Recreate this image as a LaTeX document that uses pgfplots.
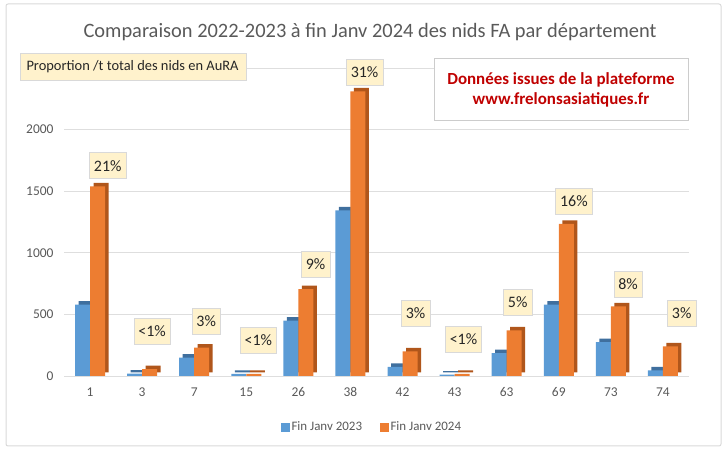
\documentclass[border=0pt]{standalone}
\usepackage{fontspec}
\setmainfont{Carlito}
\usepackage{pgfplots}
\pgfplotsset{compat=1.18}
\usepackage{pgfplotstable}
\definecolor{barblue}{HTML}{5B9BD5}
\definecolor{barorange}{HTML}{ED7D31}
\definecolor{sideblue}{HTML}{3F6F9E}
\definecolor{sideorange}{HTML}{B0561B}
\definecolor{labfill}{HTML}{FFF2CC}
\definecolor{txtgray}{HTML}{595959}
\definecolor{srcred}{HTML}{C00000}

\pgfplotstableread{
x dep a b
0 1 580 1540
1 3 20 55
2 7 150 230
3 15 18 18
4 26 450 705
5 38 1345 2310
6 42 75 200
7 43 12 18
8 63 185 370
9 69 580 1235
10 73 275 565
11 74 45 240
}\nids

\pgfplotstableread{
x y lab
0.34 1600 21\%
1.19 255 <1\%
2.23 336 3\%
3.23 182 <1\%
4.33 800 9\%
5.27 2360 31\%
6.25 401 3\%
7.17 190 <1\%
8.21 491 5\%
9.29 1312 16\%
10.33 637 8\%
11.36 401 3\%
}\labs

\begin{document}
\begin{tikzpicture}[x=1bp,y=1bp]
\path (0,0) rectangle (727,450);
\draw[black!15, line width=1bp, rounded corners=2bp] (6,4) rectangle (721,446);
\node[text=txtgray, font=\fontsize{20.5}{24}\selectfont] at (370,418) {Comparaison 2022-2023 à fin Janv 2024 des nids FA par département};
\begin{axis}[
  at={(64bp,74bp)}, anchor=south west,
  scale only axis, width=625bp, height=308bp,
  xmin=-0.5, xmax=11.5, ymin=0, ymax=2500,
  xtick={0,...,11},
  xticklabels={1,3,7,15,26,38,42,43,63,69,73,74},
  ytick={0,500,1000,1500,2000,2500},
  yticklabels={0,500,1000,1500,2000,{}},
  ymajorgrids, grid style={draw=black!13, line width=0.9bp},
  axis line style={draw=none}, major tick length=0pt,
  tick label style={font=\fontsize{13.5}{15}\selectfont, text=txtgray},
  xticklabel style={yshift=-8bp},
  yticklabel style={xshift=-7bp},
  /pgf/number format/assume math mode=true,
  clip=false,
  legend columns=2,
  legend style={at={(0.493,-0.166)}, anchor=center, draw=none, fill=none,
    font=\fontsize{13}{15}\selectfont, text=txtgray,
    /tikz/every even column/.append style={column sep=16bp}},
]
\addplot[forget plot, ybar, bar width=15bp, bar shift=-7.5bp, fill=sideblue, draw=none, xshift=3.5bp, yshift=3.5bp] table[x=x,y=a]{\nids};
\addplot[forget plot, ybar, bar width=15bp, bar shift=-7.5bp, fill=barblue, draw=none] table[x=x,y=a]{\nids};
\addplot[forget plot, ybar, bar width=15bp, bar shift=7.5bp, fill=sideorange, draw=none, xshift=3.5bp, yshift=3.5bp] table[x=x,y=b]{\nids};
\addplot[forget plot, ybar, bar width=15bp, bar shift=7.5bp, fill=barorange, draw=none] table[x=x,y=b]{\nids};
\addplot[forget plot, only marks, mark=none, point meta=explicit symbolic, nodes near coords,
  every node near coord/.append style={fill=labfill, draw=black!15, text=black!85,
    font=\fontsize{16}{18}\selectfont, inner xsep=4.5bp, minimum height=26bp}]
  table[x=x,y=y,meta=lab]{\labs};
\addlegendimage{legend image code/.code={\fill[barblue] (0bp,-4bp) rectangle (8bp,4bp);}}
\addlegendentry{Fin Janv 2023}
\addlegendimage{legend image code/.code={\fill[barorange] (0bp,-4bp) rectangle (8bp,4bp);}}
\addlegendentry{Fin Janv 2024}
\end{axis}
\draw[black!15, fill=labfill] (20,370) rectangle (246,397);
\node[anchor=west, text=black!85, font=\fontsize{14.5}{17}\selectfont] at (23,383.5) {Proportion /t total des nids en AuRA};
\draw[black!20, fill=white] (434,330) rectangle (688,392);
\node[text=srcred, font=\bfseries\fontsize{17}{20}\selectfont, align=center] at (561,360)
  {Données issues de la plateforme\\[0bp] www.frelonsasiatiques.fr};
\end{tikzpicture}
\end{document}
